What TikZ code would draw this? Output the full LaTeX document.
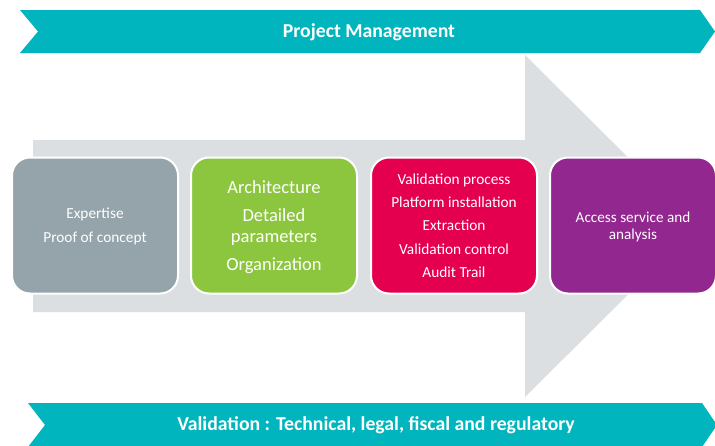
\documentclass[tikz,border=0pt]{standalone}
\usepackage{fontspec}
\setmainfont{Carlito}
\definecolor{teal1}{HTML}{00B5BD}
\definecolor{arrowgray}{HTML}{DCDFE2}
\definecolor{box1}{HTML}{95A3AA}
\definecolor{box2}{HTML}{8CC63F}
\definecolor{box3}{HTML}{E5004F}
\definecolor{box4}{HTML}{92278F}
\tikzset{
  stagebox/.style={draw=white, line width=1.5pt, rounded corners=13.5pt, minimum width=124.5pt, minimum height=102pt, text=white, align=center, inner sep=0pt},
  bannertext/.style={text=white, font=\bfseries\fontsize{14.8}{17}\selectfont, inner sep=0pt}
}
\begin{document}
\begin{tikzpicture}[x=0.75pt,y=-0.75pt]
\useasboundingbox (0,0) rectangle (715,446);
\fill[white] (0,0) rectangle (715,446);
% big gray arrow
\fill[arrowgray] (33,140) -- (525,140) -- (525,55) -- (697,226) -- (525,397) -- (525,312) -- (33,312) -- cycle;
% top banner
\fill[teal1] (20,10) -- (700,10) -- (715,31.5) -- (700,53) -- (20,53) -- (38,31.5) -- cycle;
\node[bannertext] (pm) at (369,32) {Project Management};
% bottom banner
\fill[teal1] (28,403) -- (702,403) -- (717,425) -- (702,447) -- (28,447) -- (45,425) -- cycle;
\node[bannertext] (val) at (376,425) {Validation : Technical, legal, fiscal and regulatory};
% stage boxes
\node[stagebox, fill=box1] (b1) at (95,225.5) {};
\node[text=white, align=center, font=\fontsize{11.5}{14}\selectfont] (b1t) at (95,226.5) {Expertise\\[4pt]Proof of concept};
\node[stagebox, fill=box2] (b2) at (274,225.5) {};
\node[text=white, align=center, font=\fontsize{13.9}{16}\selectfont] (b2t) at (274,227) {Architecture\\[5pt]Detailed\\parameters\\[5pt]Organization};
\node[stagebox, fill=box3, font=\fontsize{11.5}{14}\selectfont] (b3) at (454,225.5) {Validation process\\[3.5pt]Platform installation\\[3.5pt]Extraction\\[3.5pt]Validation control\\[3.5pt]Audit Trail};
\node[stagebox, fill=box4, anchor=west] (b4) at (549,225.5) {};
\node[text=white, align=center, font=\fontsize{11.4}{12.8}\selectfont] (b4t) at (633,227) {Access service and\\analysis};
\end{tikzpicture}
\end{document}
